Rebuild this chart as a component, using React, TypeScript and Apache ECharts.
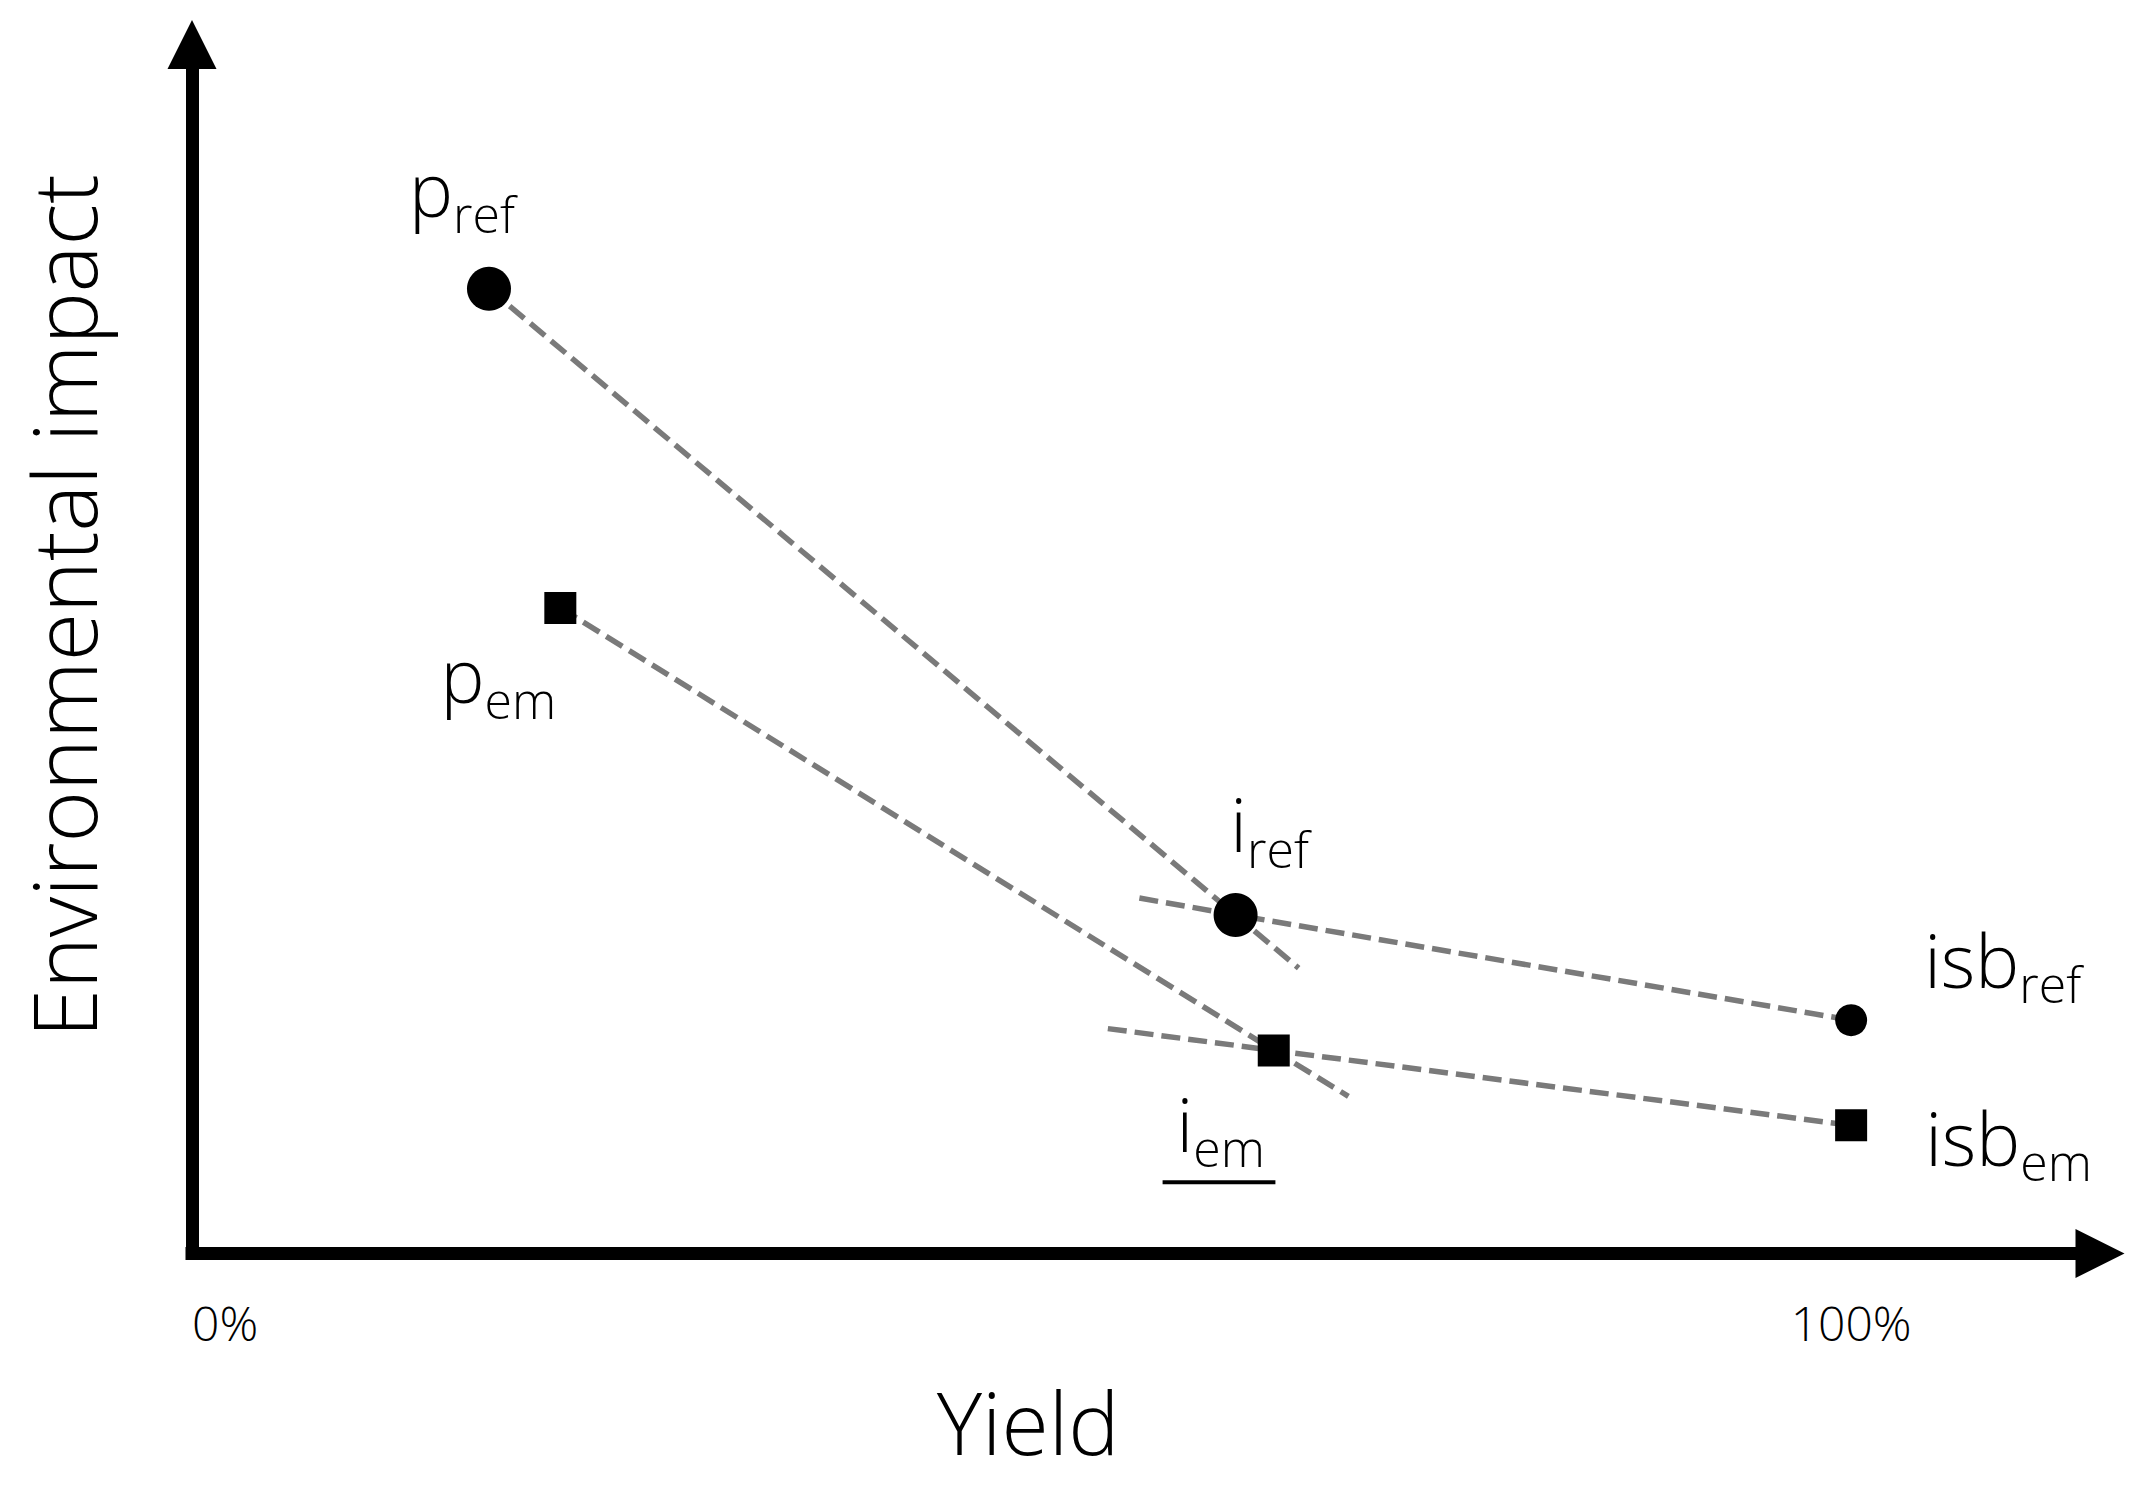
import React, { useEffect, useRef } from "react";
import * as echarts from "echarts";

// ---- data (Yield % on x, environmental impact on an arbitrary 0-100 scale) ----
const refPoints: [number, number][] = [
  [17.9, 79.8], // p_ref
  [62.9, 28.0], // i_ref
  [100, 19.3], // isb_ref
];
const emPoints: [number, number][] = [
  [22.2, 53.4], // p_em
  [65.2, 16.8], // i_em
  [100, 10.6], // isb_em
];
const refNames: [string, string][] = [
  ["p", "ref"],
  ["i", "ref"],
  ["isb", "ref"],
];
const emNames: [string, string][] = [
  ["p", "em"],
  ["i", "em"],
  ["isb", "em"],
];
const refSteepLine: [number, number][] = [
  [17.9, 79.8],
  [62.9, 28.0],
  [66.7, 23.6],
];
const emSteepLine: [number, number][] = [
  [22.2, 53.4],
  [65.2, 16.8],
  [69.7, 13.0],
];
const refFlatLine: [number, number][] = [
  [57.1, 29.4],
  [62.9, 28.0],
  [100, 19.3],
];
const emFlatLine: [number, number][] = [
  [55.2, 18.6],
  [65.2, 16.8],
  [100, 10.6],
];
const iEmUnderline: [number, number][] = [
  [58.5, 5.9],
  [65.3, 5.9],
];
const xTickValues = [0, 100];
const xTickLabels = ["0%", "100%"];

// ---- styles ----
const FONT = '"Open Sans", "Noto Sans", sans-serif';
const TEXT = "#000000";
const refSizes = [44, 44, 32];
const emSizes = [32, 32, 32];
const refLabelPos = [
  { align: "center", offset: [-27, -137] },
  { align: "center", offset: [34, -128] },
  { align: "left", offset: [73, -98] },
];
const emLabelPos = [
  { align: "center", offset: [-62, 30] },
  { align: "center", offset: [-53, 36] },
  { align: "left", offset: [74, -25] },
];

const rich = {
  m: {
    fontSize: 74,
    lineHeight: 70,
    verticalAlign: "top",
    fontFamily: FONT,
    fontWeight: 300,
    color: TEXT,
  },
  s: {
    fontSize: 50,
    lineHeight: 124,
    fontFamily: FONT,
    fontWeight: 300,
    color: TEXT,
  },
};

function makeLabel(name: [string, string], pos: any) {
  return {
    show: true,
    position: "inside",
    align: pos.align,
    verticalAlign: "top",
    offset: pos.offset,
    color: TEXT,
    textBorderWidth: 0,
    formatter: `{m|${name[0]}}{s|${name[1]}}`,
    rich,
  };
}

const dashStyle = { color: "#7a7a7a", width: 5.5, type: [19, 8] };

export default function App() {
  const ref = useRef<HTMLDivElement>(null);
  useEffect(() => {
    if (!ref.current) return;
    const chart = echarts.init(ref.current, null, { renderer: "svg" });
    const axisLine = {
      show: true,
      onZero: false,
      symbol: ["none", "triangle"],
      symbolSize: [49, 49],
      lineStyle: { color: "#000", width: 13, cap: "square" },
    };
    chart.setOption({
      animation: false,
      backgroundColor: "#ffffff",
      grid: {
        left: 192,
        right: 48,
        top: 44.5,
        bottom: 240.5,
        containLabel: false,
        outerBoundsMode: "none",
      },
      xAxis: {
        type: "value",
        min: 0,
        max: 115,
        name: "Yield",
        nameLocation: "middle",
        nameGap: 125,
        nameTextStyle: {
          fontSize: 86,
          fontFamily: FONT,
          fontWeight: 300,
          color: TEXT,
          padding: [0, 236, 0, 0],
        },
        axisLine,
        axisTick: { show: false },
        splitLine: { show: false },
        axisLabel: {
          customValues: xTickValues,
          formatter: (v: number) => xTickLabels[xTickValues.indexOf(v)] ?? "",
          fontSize: 48,
          fontFamily: FONT,
          fontWeight: 300,
          color: TEXT,
          margin: 45,
          alignMinLabel: "left",
        },
      },
      yAxis: {
        type: "value",
        min: 0,
        max: 100,
        name: "Environmental impact",
        nameLocation: "middle",
        nameRotate: 90,
        nameGap: 85,
        nameTextStyle: {
          fontSize: 88,
          lineHeight: 88,
          fontFamily: FONT,
          fontWeight: 300,
          color: TEXT,
          padding: [0, 0, 0, 86],
        },
        axisLine,
        axisTick: { show: false },
        splitLine: { show: false },
        axisLabel: { show: false },
      },
      series: [
        { type: "line", data: refSteepLine, symbol: "none", lineStyle: dashStyle, z: 2, silent: true },
        { type: "line", data: emSteepLine, symbol: "none", lineStyle: dashStyle, z: 2, silent: true },
        { type: "line", data: refFlatLine, symbol: "none", lineStyle: dashStyle, z: 2, silent: true },
        { type: "line", data: emFlatLine, symbol: "none", lineStyle: dashStyle, z: 2, silent: true },
        {
          type: "line",
          data: iEmUnderline,
          symbol: "none",
          lineStyle: { color: "#000", width: 4 },
          z: 2,
          silent: true,
        },
        {
          type: "scatter",
          symbol: "circle",
          symbolSize: (_v: any, p: any) => refSizes[p.dataIndex],
          itemStyle: { color: "#000", opacity: 1 },
          z: 3,
          data: refPoints.map((pt, i) => ({
            value: pt,
            label: makeLabel(refNames[i], refLabelPos[i]),
          })),
        },
        {
          type: "scatter",
          symbol: "rect",
          symbolSize: (_v: any, p: any) => emSizes[p.dataIndex],
          itemStyle: { color: "#000", opacity: 1 },
          z: 3,
          data: emPoints.map((pt, i) => ({
            value: pt,
            label: makeLabel(emNames[i], emLabelPos[i]),
          })),
        },
      ],
    });
    return () => chart.dispose();
  }, []);
  return (
    <div
      ref={ref}
      style={{ position: "fixed", left: 0, top: 0, width: 2148, height: 1494, background: "#fff" }}
    />
  );
}
